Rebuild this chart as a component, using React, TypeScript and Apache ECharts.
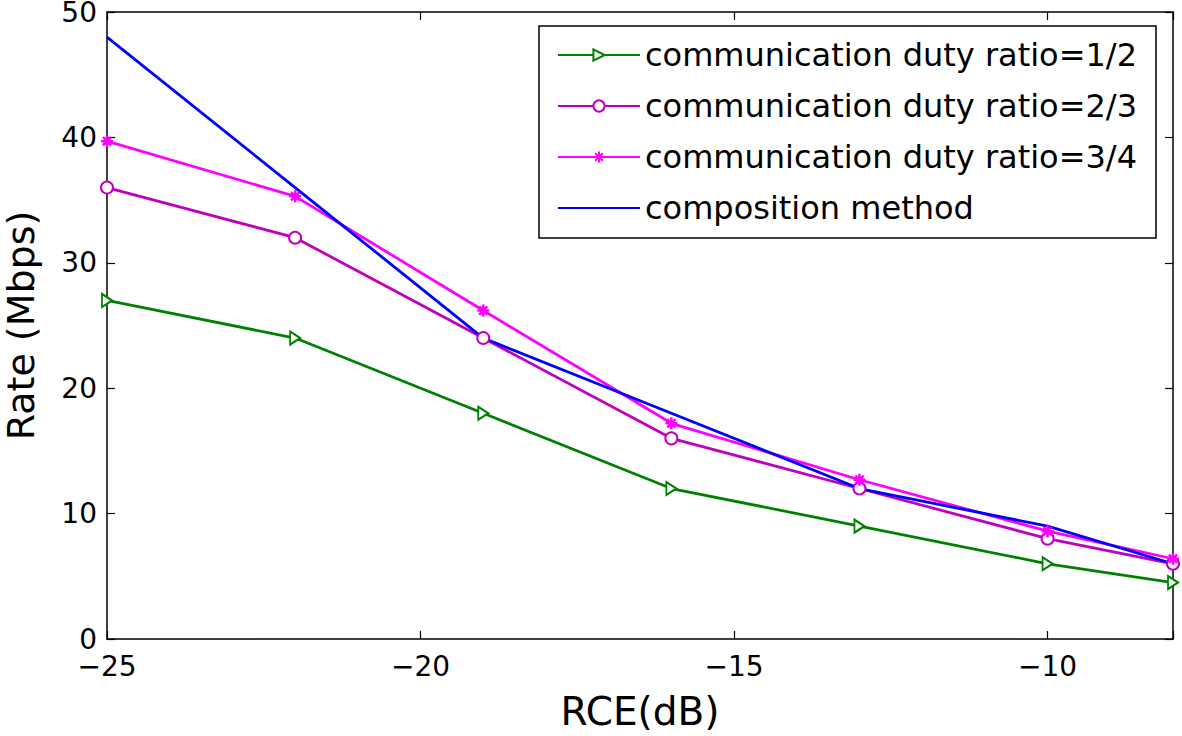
import React, { useEffect, useRef } from "react";
import * as echarts from "echarts";

const xValues = [-25, -22, -19, -16, -13, -10, -8];
const ratioHalf = [27, 24, 18, 12, 9, 6, 4.5];
const ratioTwoThirds = [36, 32, 24, 16, 12, 8, 6];
const ratioThreeQuarters = [39.7, 35.3, 26.2, 17.2, 12.7, 8.6, 6.4];
const composition = [48, 36, 24, 18, 12, 9, 6];
const seriesNames = [
  "communication duty ratio=1/2",
  "communication duty ratio=2/3",
  "communication duty ratio=3/4",
  "composition method",
];
const xTicks = [-25, -20, -15, -10];
const yTicks = [0, 10, 20, 30, 40, 50];

const FONT = "DejaVu Sans";
const ASTERISK = "path://M5,0L5,10M0,5L10,5M1.6,1.6L8.4,8.4M1.6,8.4L8.4,1.6";

const pairs = (ys: number[]) => xValues.map((x, i) => [x, ys[i]]);
const fmtX = (v: number) =>
  xTicks.includes(v) ? (v < 0 ? "\u2212" + Math.abs(v) : String(v)) : "";
const fmtY = (v: number) => (yTicks.includes(v) ? String(v) : "");

export default function App() {
  const ref = useRef<HTMLDivElement>(null);
  useEffect(() => {
    if (!ref.current) return;
    const chart = echarts.init(ref.current, null, { renderer: "svg" });
    const axisLine = { show: true, onZero: false, lineStyle: { color: "#000", width: 1.5 } };
    const axisTick = { show: true, inside: true, length: 8, lineStyle: { color: "#000", width: 1.2 } };
    chart.setOption({
      animation: false,
      backgroundColor: "#fff",
      grid: {
        left: 107,
        right: 9,
        top: 12,
        bottom: 97,
        containLabel: false,
        outerBoundsMode: "none",
      },
      legend: {
        orient: "vertical",
        left: 539,
        top: 26,
        data: [
          { name: seriesNames[0] },
          { name: seriesNames[1] },
          { name: seriesNames[2] },
          { name: seriesNames[3], itemStyle: { opacity: 0 } },
        ],
        itemWidth: 82,
        itemHeight: 14,
        itemGap: 19,
        padding: [13, 19, 14, 18],
        borderColor: "#000",
        borderWidth: 1.5,
        backgroundColor: "#fff",
        textStyle: { fontFamily: FONT, fontSize: 32, color: "#000" },
      },
      xAxis: [
        {
          type: "value",
          min: -25,
          max: -8,
          interval: 5,
          position: "bottom",
          name: "RCE(dB)",
          nameLocation: "middle",
          nameGap: 53,
          nameTextStyle: { fontFamily: FONT, fontSize: 39, color: "#000" },
          axisLine,
          axisTick,
          splitLine: { show: false },
          axisLabel: { formatter: fmtX, fontFamily: FONT, fontSize: 28, color: "#000", margin: 13 },
        },
        {
          type: "value",
          min: -25,
          max: -8,
          interval: 5,
          position: "top",
          axisLine,
          axisTick,
          splitLine: { show: false },
          axisLabel: { show: false },
        },
      ],
      yAxis: [
        {
          type: "value",
          min: 0,
          max: 50,
          interval: 10,
          position: "left",
          name: "Rate (Mbps)",
          nameLocation: "middle",
          nameGap: 67,
          nameTextStyle: { fontFamily: FONT, fontSize: 38, color: "#000" },
          axisLine,
          axisTick,
          splitLine: { show: false },
          axisLabel: { formatter: fmtY, fontFamily: FONT, fontSize: 28, color: "#000", margin: 10 },
        },
        {
          type: "value",
          min: 0,
          max: 50,
          interval: 10,
          position: "right",
          axisLine,
          axisTick,
          splitLine: { show: false },
          axisLabel: { show: false },
        },
      ],
      series: [
        {
          name: seriesNames[0],
          type: "line",
          data: pairs(ratioHalf),
          symbol: "emptyTriangle",
          symbolSize: [13, 10],
          symbolRotate: -90,
          lineStyle: { color: "#008000", width: 2.8 },
          itemStyle: { color: "#008000", borderColor: "#008000", borderWidth: 2 },
        },
        {
          name: seriesNames[1],
          type: "line",
          data: pairs(ratioTwoThirds),
          symbol: "emptyCircle",
          symbolSize: 12,
          lineStyle: { color: "#BF00BF", width: 2.8 },
          itemStyle: { color: "#BF00BF", borderColor: "#BF00BF", borderWidth: 2 },
        },
        {
          name: seriesNames[2],
          type: "line",
          data: pairs(ratioThreeQuarters),
          symbol: ASTERISK,
          symbolSize: 12,
          lineStyle: { color: "#FF00FF", width: 2.8 },
          itemStyle: { color: "#FF00FF", borderColor: "#FF00FF", borderWidth: 2.5 },
        },
        {
          name: seriesNames[3],
          type: "line",
          data: pairs(composition),
          showSymbol: false,
          symbol: "none",
          lineStyle: { color: "#0000FF", width: 2.8 },
          itemStyle: { color: "#0000FF", opacity: 0 },
        },
      ],
    });
    return () => chart.dispose();
  }, []);
  return (
    <div
      ref={ref}
      style={{ position: "fixed", left: 0, top: 0, width: 1182, height: 736, background: "#fff" }}
    />
  );
}
